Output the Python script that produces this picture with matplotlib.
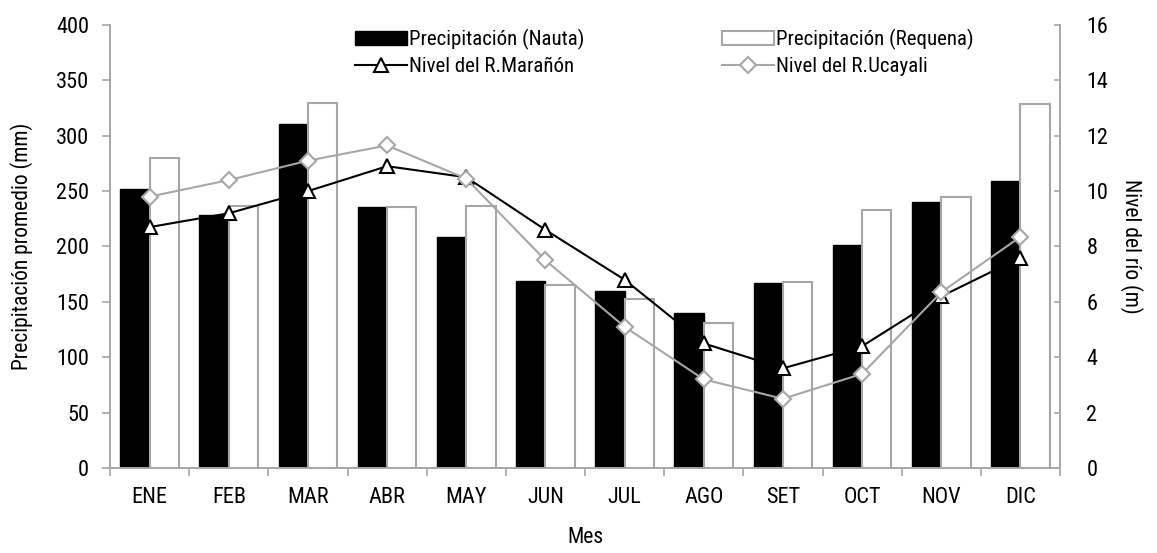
import matplotlib
matplotlib.use("Agg")
import matplotlib.pyplot as plt
import numpy as np

plt.rcParams['font.family'] = ['Roboto Condensed', 'DejaVu Sans']
plt.rcParams['font.stretch'] = 'condensed'
plt.rcParams['font.size'] = 16

meses = ["ENE", "FEB", "MAR", "ABR", "MAY", "JUN", "JUL", "AGO", "SET", "OCT", "NOV", "DIC"]
prec_nauta = [252, 228, 311, 236, 209, 169, 160, 140, 167, 201, 240, 259]
prec_requena = [280, 237, 330, 236, 237, 165, 153, 131, 168, 233, 245, 329]
nivel_maranon = [8.7, 9.2, 10.0, 10.9, 10.5, 8.6, 6.8, 4.5, 3.6, 4.4, 6.2, 7.6]
nivel_ucayali = [9.8, 10.4, 11.1, 11.65, 10.45, 7.5, 5.1, 3.2, 2.5, 3.4, 6.35, 8.35]

GRIS = "#a6a6a6"

fig, ax = plt.subplots(figsize=(11.57, 5.53), dpi=100)
fig.subplots_adjust(left=0.0951, right=0.9162, bottom=0.1537, top=0.9548)

x = np.arange(len(meses))
w = 0.37
b1 = ax.bar(x - w / 2, prec_nauta, w, color="black", edgecolor="black", linewidth=1,
            label="Precipitación (Nauta)")
b2 = ax.bar(x + w / 2, prec_requena, w, color="white", edgecolor=GRIS, linewidth=1.5,
            label="Precipitación (Requena)")

ax.set_xlim(-0.5, len(meses) - 0.5)
ax.set_ylim(0, 400)
ax.set_yticks(np.arange(0, 401, 50))
ax.set_xticks(x)
ax.set_xticklabels(meses)
ax.set_xticks(np.arange(-0.5, len(meses), 1), minor=True)
ax.tick_params(axis="x", which="major", length=0, pad=14)
ax.tick_params(axis="x", which="minor", length=6, color=GRIS, width=1.2)
ax.tick_params(axis="y", length=6, color=GRIS, width=1.2, pad=9)
ax.set_ylabel("Precipitación promedio (mm)", fontsize=15.5)
ax.yaxis.set_label_coords(-0.081, 0.5)
ax.set_xlabel("Mes", fontsize=15.5)
ax.xaxis.set_label_coords(0.5, -0.133)

ax2 = ax.twinx()
l1, = ax2.plot(x, nivel_maranon, color="black", lw=1.5, marker="^", markersize=10,
               markerfacecolor="white", markeredgecolor="black", markeredgewidth=1.5,
               label="Nivel del R.Marañón")
l2, = ax2.plot(x, nivel_ucayali, color=GRIS, lw=1.5, marker="D", markersize=8,
               markerfacecolor="white", markeredgecolor=GRIS, markeredgewidth=1.5,
               label="Nivel del R.Ucayali")
ax2.set_ylim(0, 16)
ax2.set_yticks(np.arange(0, 17, 2))
ax2.tick_params(axis="y", direction="in", length=4, color=GRIS, width=1.2, pad=19)
ax2.set_ylabel("Nivel del río (m)", rotation=270, fontsize=15.5)
ax2.yaxis.set_label_coords(1.087, 0.5)

for a in (ax, ax2):
    a.spines["top"].set_visible(False)
    for s in ("left", "right", "bottom"):
        a.spines[s].set_color(GRIS)
        a.spines[s].set_linewidth(1.2)

ax2.legend([b1, l1, b2, l2],
           ["Precipitación (Nauta)", "Nivel del R.Marañón",
            "Precipitación (Requena)", "Nivel del R.Ucayali"],
           ncol=2, loc="upper left", bbox_to_anchor=(0.249, 1.01), frameon=False,
           fontsize=15, handlelength=2.5, handletextpad=0.1, columnspacing=6.6,
           labelspacing=0.35, borderaxespad=0)

fig.savefig("out.png", dpi=100)
